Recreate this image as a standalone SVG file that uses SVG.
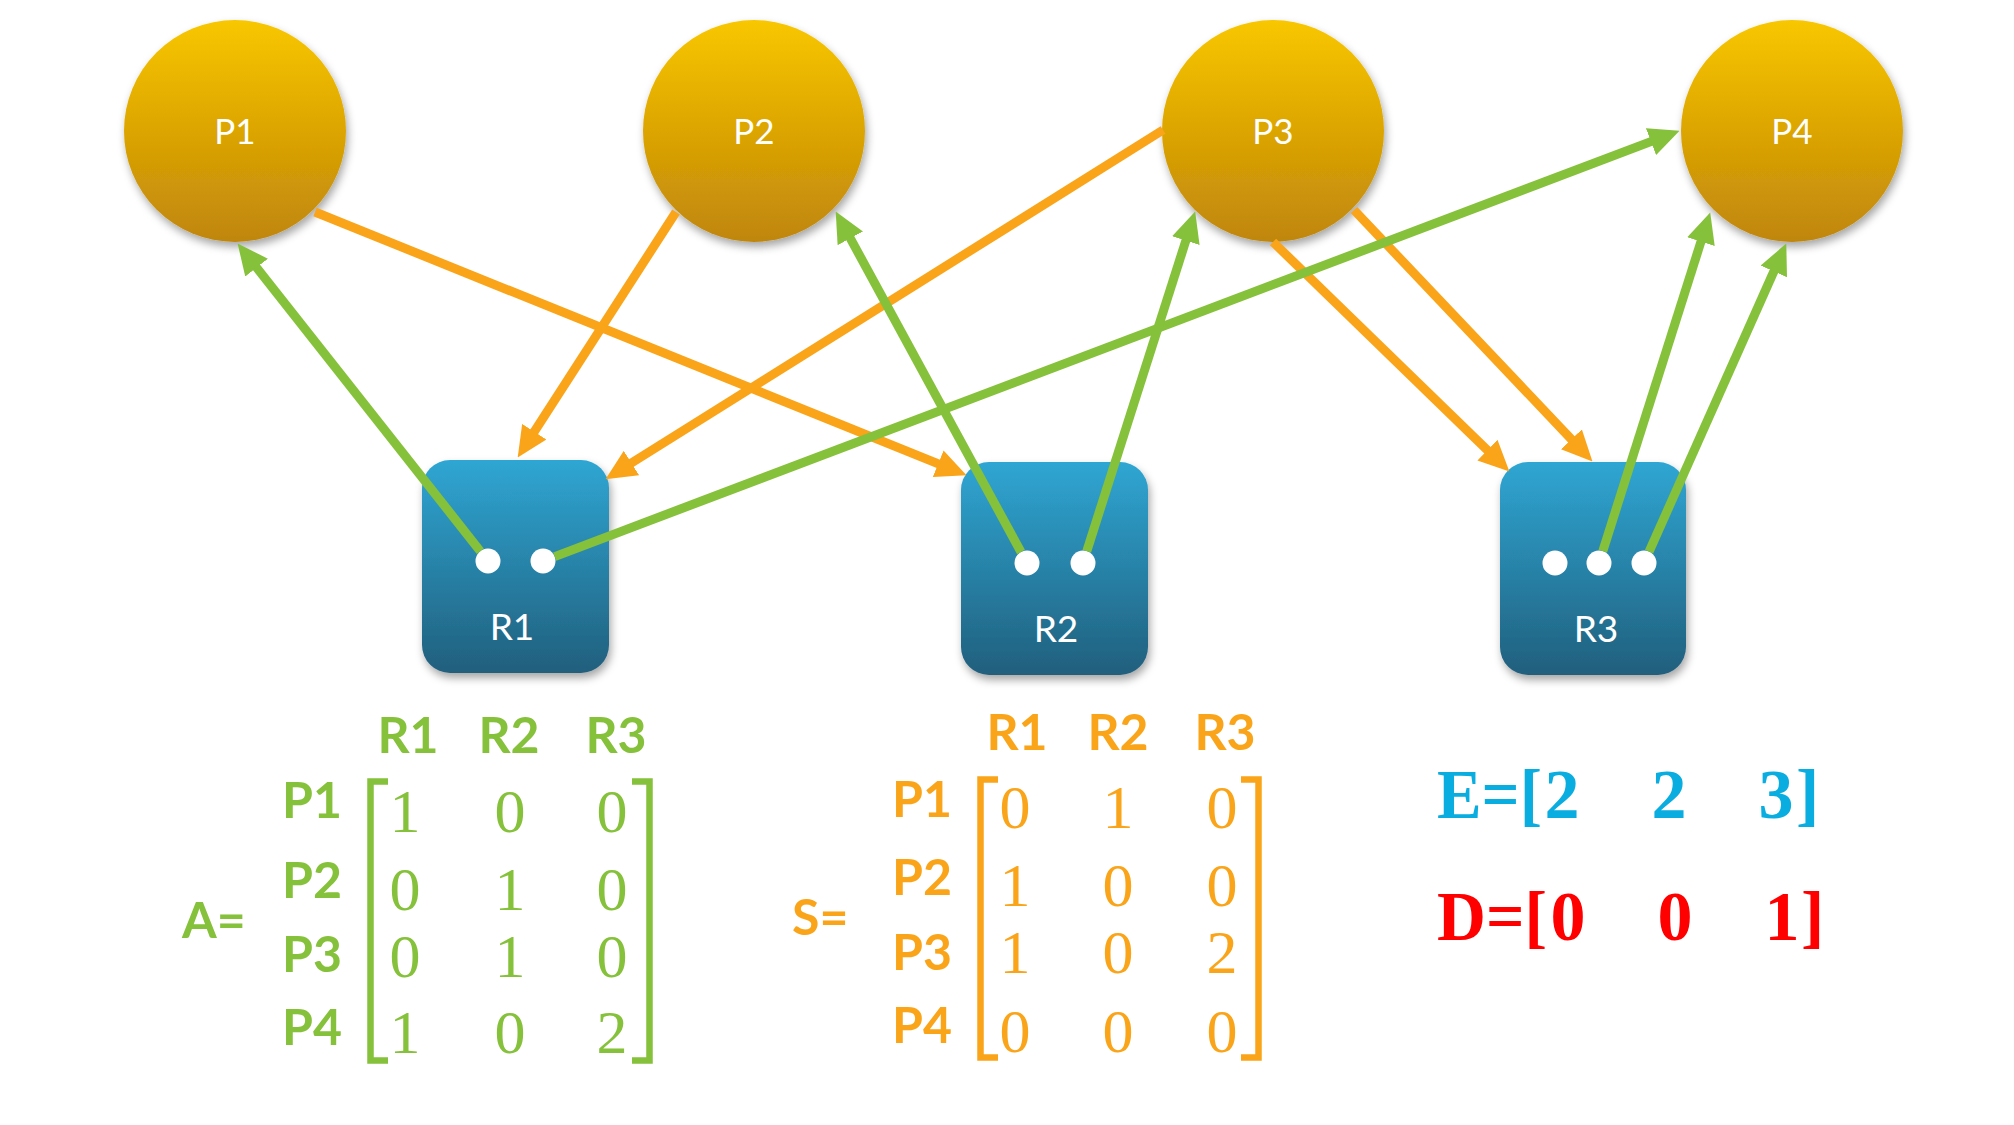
<svg xmlns="http://www.w3.org/2000/svg" width="2014" height="1125" viewBox="0 0 2014 1125">
<defs>
<linearGradient id="gCircle" x1="0" y1="0" x2="0" y2="1">
<stop offset="0" stop-color="#F8C700"/>
<stop offset="0.5" stop-color="#DCA503"/>
<stop offset="1" stop-color="#BF860C"/>
</linearGradient>
<linearGradient id="gBox" x1="0" y1="0" x2="0" y2="1">
<stop offset="0" stop-color="#2FA6D3"/>
<stop offset="1" stop-color="#215F7D"/>
</linearGradient>
<filter id="shadow" x="-20%" y="-20%" width="140%" height="140%">
<feDropShadow dx="2" dy="5" stdDeviation="4" flood-color="#000" flood-opacity="0.35"/>
</filter>
<marker id="arrG" markerUnits="strokeWidth" markerWidth="3.4" markerHeight="3.2" refX="1.0" refY="1.6" orient="auto">
<path d="M0,0 L3.4,1.6 L0,3.2 z" fill="#85C13A"/>
</marker>
<marker id="arrO" markerUnits="strokeWidth" markerWidth="3.4" markerHeight="3.2" refX="1.0" refY="1.6" orient="auto">
<path d="M0,0 L3.4,1.6 L0,3.2 z" fill="#FAA41A"/>
</marker>
<style>
.proc{fill:url(#gCircle);filter:url(#shadow)}
.res{fill:url(#gBox);filter:url(#shadow)}
.dot{fill:#fff}
.nlab{font-family:Lato,"Open Sans",sans-serif;fill:#fff;text-anchor:middle}
.g{stroke:#85C13A;stroke-width:9;fill:none;marker-end:url(#arrG)}
.o{stroke:#FAA41A;stroke-width:9;fill:none;marker-end:url(#arrO)}
.hdr{font-family:Lato,"Open Sans",sans-serif;font-weight:700;font-size:50px;text-anchor:middle}
.num{font-family:"Liberation Serif",serif;font-size:62px;text-anchor:middle}
.brk{fill:none;stroke-width:6.5}
.vec{font-family:"Liberation Serif",serif;font-weight:700;font-size:70px}
</style>
</defs>
<rect width="2014" height="1125" fill="#fff"/>

<g id="P1"><circle class="proc" cx="235" cy="131" r="111"/><text class="nlab" x="235" y="144" font-size="35">P1</text></g>
<g id="P2"><circle class="proc" cx="754" cy="131" r="111"/><text class="nlab" x="754" y="144" font-size="35">P2</text></g>
<g id="P3"><circle class="proc" cx="1273" cy="131" r="111"/><text class="nlab" x="1273" y="144" font-size="35">P3</text></g>
<g id="P4"><circle class="proc" cx="1792" cy="131" r="111"/><text class="nlab" x="1792" y="144" font-size="35">P4</text></g>

<g id="R1"><rect class="res" x="422" y="460" width="187" height="213" rx="28"/><circle class="dot" cx="488" cy="561" r="12.5"/><circle class="dot" cx="543" cy="561" r="12.5"/><text class="nlab" x="512" y="640" font-size="37">R1</text></g>
<g id="R2"><rect class="res" x="961" y="462" width="187" height="213" rx="28"/><circle class="dot" cx="1027" cy="563" r="12.5"/><circle class="dot" cx="1083" cy="563" r="12.5"/><text class="nlab" x="1056" y="642" font-size="37">R2</text></g>
<g id="R3"><rect class="res" x="1500" y="462" width="186" height="213" rx="28"/><circle class="dot" cx="1555" cy="563" r="12.5"/><circle class="dot" cx="1599" cy="563" r="12.5"/><circle class="dot" cx="1644" cy="563" r="12.5"/><text class="nlab" x="1596" y="642" font-size="37">R3</text></g>

<g id="connectors">
<line class="o" x1="315" y1="212" x2="946.5" y2="467.1"/>
<line class="o" x1="676" y1="212" x2="529.4" y2="439.3"/>
<line class="o" x1="1163" y1="130" x2="623.8" y2="467.8"/>
<line class="o" x1="1273" y1="242" x2="1493.9" y2="456.4"/>
<line class="o" x1="1354" y1="210" x2="1577.6" y2="445.8"/>
<line class="g" x1="480.3" y1="551.2" x2="251" y2="260.5"/>
<line class="g" x1="554.7" y1="556.6" x2="1659.4" y2="138.4"/>
<line class="g" x1="1021" y1="552" x2="846" y2="230.4"/>
<line class="g" x1="1086.8" y1="551.1" x2="1188.6" y2="232"/>
<line class="g" x1="1602.8" y1="551.1" x2="1703.7" y2="233"/>
<line class="g" x1="1649.1" y1="551.6" x2="1777.5" y2="263.2"/>
</g>

<g id="matrixA" fill="#85C13A" stroke="#85C13A">
<text class="hdr" stroke="none" x="182" y="938" style="text-anchor:start">A=</text>
<text class="hdr" stroke="none" x="408" y="753">R1</text>
<text class="hdr" stroke="none" x="509" y="753">R2</text>
<text class="hdr" stroke="none" x="616" y="753">R3</text>
<text class="hdr" stroke="none" x="312" y="818">P1</text>
<text class="hdr" stroke="none" x="312" y="898">P2</text>
<text class="hdr" stroke="none" x="312" y="972">P3</text>
<text class="hdr" stroke="none" x="312" y="1045">P4</text>
<path class="brk" d="M388,781.5 H370.5 V1060.5 H388"/>
<path class="brk" d="M632,781.5 H649.5 V1060.5 H632"/>
<g stroke="none">
<text class="num" x="405" y="832">1</text><text class="num" x="510" y="832">0</text><text class="num" x="612" y="832">0</text>
<text class="num" x="405" y="910">0</text><text class="num" x="510" y="910">1</text><text class="num" x="612" y="910">0</text>
<text class="num" x="405" y="977">0</text><text class="num" x="510" y="977">1</text><text class="num" x="612" y="977">0</text>
<text class="num" x="405" y="1053">1</text><text class="num" x="510" y="1053">0</text><text class="num" x="612" y="1053">2</text>
</g>
</g>

<g id="matrixS" fill="#FAA41A" stroke="#FAA41A">
<text class="hdr" stroke="none" x="792" y="935" style="text-anchor:start">S=</text>
<text class="hdr" stroke="none" x="1017" y="750">R1</text>
<text class="hdr" stroke="none" x="1118" y="750">R2</text>
<text class="hdr" stroke="none" x="1225" y="750">R3</text>
<text class="hdr" stroke="none" x="922" y="817">P1</text>
<text class="hdr" stroke="none" x="922" y="895">P2</text>
<text class="hdr" stroke="none" x="922" y="970">P3</text>
<text class="hdr" stroke="none" x="922" y="1043">P4</text>
<path class="brk" d="M998,779.5 H980.5 V1057.5 H998"/>
<path class="brk" d="M1241,779.5 H1258.5 V1057.5 H1241"/>
<g stroke="none">
<text class="num" x="1015" y="828">0</text><text class="num" x="1118" y="828">1</text><text class="num" x="1222" y="828">0</text>
<text class="num" x="1015" y="906">1</text><text class="num" x="1118" y="906">0</text><text class="num" x="1222" y="906">0</text>
<text class="num" x="1015" y="973">1</text><text class="num" x="1118" y="973">0</text><text class="num" x="1222" y="973">2</text>
<text class="num" x="1015" y="1052">0</text><text class="num" x="1118" y="1052">0</text><text class="num" x="1222" y="1052">0</text>
</g>
</g>

<g id="vectorE" fill="#0AADE0">
<text class="vec" x="1437" y="818" textLength="105" lengthAdjust="spacingAndGlyphs">E=[</text>
<text class="vec" x="1562" y="818" text-anchor="middle">2</text>
<text class="vec" x="1669" y="818" text-anchor="middle">2</text>
<text class="vec" x="1776" y="818" text-anchor="middle">3</text>
<text class="vec" x="1796" y="818">]</text>
</g>
<g id="vectorD" fill="#FF0000">
<text class="vec" x="1437" y="940" textLength="110" lengthAdjust="spacingAndGlyphs">D=[</text>
<text class="vec" x="1568" y="940" text-anchor="middle">0</text>
<text class="vec" x="1675" y="940" text-anchor="middle">0</text>
<text class="vec" x="1782" y="940" text-anchor="middle">1</text>
<text class="vec" x="1801" y="940">]</text>
</g>
</svg>
